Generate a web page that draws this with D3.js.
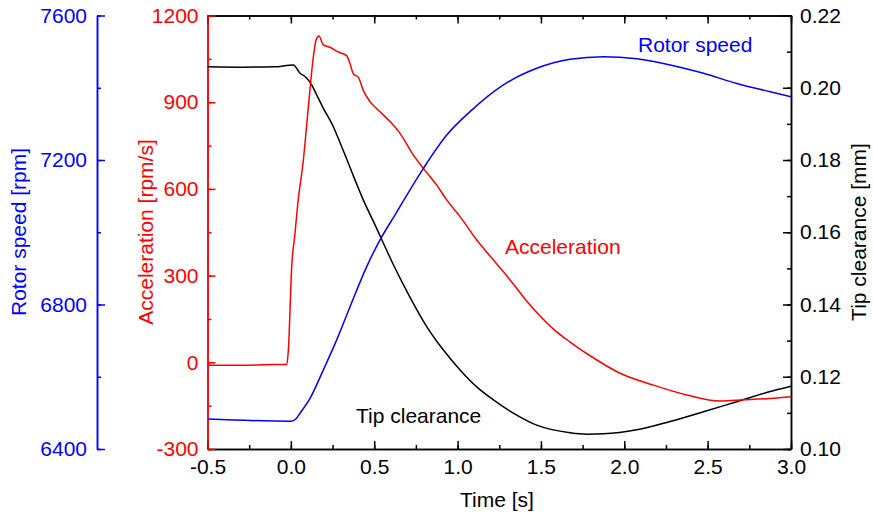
<!DOCTYPE html>
<html>
<head>
<meta charset="utf-8">
<script src="https://cdn.jsdelivr.net/npm/d3@7"></script>
<style>
  body { margin: 0; background: #fff; }
  text { font-family: "Liberation Sans", Arial, sans-serif; }
  .axis path, .axis line { stroke-width: 1.5; }
</style>
</head>
<body>
<svg id="chart" width="873" height="517"></svg>
<script>
// Data
var timeTicks = [-0.5, 0.0, 0.5, 1.0, 1.5, 2.0, 2.5, 3.0];
var speedTicks = [6400, 6800, 7200, 7600];
var accTicks = [-300, 0, 300, 600, 900, 1200];
var tipTicks = [0.10, 0.12, 0.14, 0.16, 0.18, 0.20, 0.22];

var accTime = [-0.5, -0.3, -0.1, -0.025, -0.015, 0.005, 0.025, 0.04, 0.075, 0.105, 0.135, 0.151, 0.168,
  0.195, 0.235, 0.28, 0.335, 0.355, 0.375, 0.405, 0.435, 0.475, 0.535, 0.595, 0.655, 0.735,
  0.795, 0.875, 0.935, 1.015, 1.115, 1.215, 1.315, 1.435, 1.575, 1.675, 1.835, 1.975,
  2.175, 2.375, 2.575, 2.715, 2.875, 3.0];
var accVals = [-10, -10, -8, -8, 42, 331, 447, 540, 700, 884, 1057, 1115, 1129,
  1098, 1090, 1075, 1061, 1033, 998, 986, 940, 902, 867, 833, 792, 717,
  671, 613, 562, 504, 423, 354, 285, 198, 115, 70, 8, -38,
  -79, -113, -134, -130, -125, -119];

var speedTime = [-0.5, 0.0, 0.03, 0.055, 0.115, 0.195, 0.275, 0.355, 0.455, 0.535, 0.625, 0.795,
  0.935, 1.075, 1.275, 1.475, 1.675, 1.875, 2.075, 2.275, 2.475, 2.675, 2.875, 3.0];
var speedVals = [6483, 6477, 6483, 6499, 6540, 6619, 6702, 6794, 6905, 6979, 7048, 7177,
  7269, 7334, 7408, 7454, 7479, 7486, 7480, 7463, 7440, 7412, 7389, 7375];

var tipTime = [-0.5, -0.3, -0.1, 0.015, 0.055, 0.085, 0.125, 0.155, 0.195, 0.255, 0.295, 0.335,
  0.375, 0.435, 0.495, 0.545, 0.615, 0.715, 0.815, 0.915, 1.015, 1.115, 1.215, 1.355, 1.475,
  1.675, 1.775, 1.875, 2.075, 2.275, 2.475, 2.675, 2.875, 3.0];
var tipVals = [0.2058, 0.2057, 0.2058, 0.2063, 0.2040, 0.2031, 0.2008, 0.1980, 0.1943, 0.1892, 0.1848, 0.1803,
  0.1756, 0.1689, 0.1630, 0.1580, 0.1510, 0.1420, 0.1339, 0.1274, 0.1219, 0.1172, 0.1136, 0.1094, 0.1066,
  0.1045, 0.1041, 0.1042, 0.1053, 0.1076, 0.1103, 0.1131, 0.1159, 0.1174];

var svg = d3.select("#chart");
var plotL = 207.5, plotR = 791, plotT = 15.5, plotB = 449, blueX = 97;

var x = d3.scaleLinear().domain([-0.5, 3.0]).range([plotL, plotR]);
var yAcc = d3.scaleLinear().domain([-300, 1200]).range([plotB, plotT]);
var ySpeed = d3.scaleLinear().domain([6400, 7600]).range([plotB, plotT]);
var yTip = d3.scaleLinear().domain([0.10, 0.22]).range([plotB, plotT]);

var fs = "21px";
var minorX = d3.range(-0.5, 3.01, 0.25).map(function(d) { return +d.toFixed(2); });
var minorAcc = d3.range(-300, 1201, 150);
var minorSpeed = d3.range(6400, 7601, 200);
var minorTip = d3.range(0.10, 0.2201, 0.01).map(function(d) { return +d.toFixed(2); });

// plain hyphen for negatives, like the original
function fmt(spec) {
  var f = d3.format(spec);
  return function(d) { return f(d).replace("\u2212", "-"); };
}

function styleAxis(g, color) {
  g.attr("class", "axis");
  g.selectAll("path").attr("stroke", color);
  g.selectAll("line").attr("stroke", color);
  g.selectAll("text").attr("fill", color).style("font-size", fs)
    .style("font-family", "Liberation Sans, Arial, sans-serif");
}

// minor ticks first
svg.append("g").attr("transform", "translate(0," + plotB + ")")
  .call(d3.axisBottom(x).tickValues(minorX).tickSize(-4).tickSizeOuter(0).tickFormat(""))
  .call(styleAxis, "#000");
svg.append("g").attr("transform", "translate(0," + plotT + ")")
  .call(d3.axisTop(x).tickValues(minorX).tickSize(-4).tickSizeOuter(0).tickFormat(""))
  .call(styleAxis, "#000");
svg.append("g").attr("transform", "translate(" + plotR + ",0)")
  .call(d3.axisRight(yTip).tickValues(minorTip).tickSize(-4).tickSizeOuter(0).tickFormat(""))
  .call(styleAxis, "#000");
svg.append("g").attr("transform", "translate(" + blueX + ",0)")
  .call(d3.axisLeft(ySpeed).tickValues(minorSpeed).tickSize(-4).tickSizeOuter(0).tickFormat(""))
  .call(styleAxis, "#0000ff");
svg.append("g").attr("transform", "translate(" + plotL + ",0)")
  .call(d3.axisLeft(yAcc).tickValues(minorAcc).tickSize(-4).tickSizeOuter(0).tickFormat(""))
  .call(styleAxis, "#ff0000");

// major ticks + labels
svg.append("g").attr("transform", "translate(0," + plotB + ")")
  .call(d3.axisBottom(x).tickValues(timeTicks).tickSize(-8).tickSizeOuter(0).tickPadding(10).tickFormat(fmt(".1f")))
  .call(styleAxis, "#000");
svg.append("g").attr("transform", "translate(0," + plotT + ")")
  .call(d3.axisTop(x).tickValues(timeTicks).tickSize(-8).tickSizeOuter(0).tickFormat(""))
  .call(styleAxis, "#000");
svg.append("g").attr("transform", "translate(" + plotR + ",0)")
  .call(d3.axisRight(yTip).tickValues(tipTicks).tickSize(-8).tickSizeOuter(0).tickPadding(9).tickFormat(fmt(".2f")))
  .call(styleAxis, "#000");
svg.append("g").attr("transform", "translate(" + blueX + ",0)")
  .call(d3.axisLeft(ySpeed).tickValues(speedTicks).tickSize(-8).tickSizeOuter(0).tickPadding(10).tickFormat(fmt("d")))
  .call(styleAxis, "#0000ff");
svg.append("g").attr("transform", "translate(" + plotL + ",0)")
  .call(d3.axisLeft(yAcc).tickValues(accTicks).tickSize(-8).tickSizeOuter(0).tickPadding(9).tickFormat(fmt("d")))
  .call(styleAxis, "#ff0000");

// clip
svg.append("clipPath").attr("id", "clip").append("rect")
  .attr("x", plotL).attr("y", plotT).attr("width", plotR - plotL).attr("height", plotB - plotT);
var plot = svg.append("g").attr("clip-path", "url(#clip)");

function drawLine(times, vals, yScale, color) {
  var line = d3.line()
    .x(function(d, i) { return x(times[i]); })
    .y(function(d) { return yScale(d); })
    .curve(d3.curveMonotoneX);
  plot.append("path").datum(vals)
    .attr("d", line)
    .attr("fill", "none")
    .attr("stroke", color)
    .attr("stroke-width", 1.5)
    .attr("stroke-linejoin", "round");
}

drawLine(tipTime, tipVals, yTip, "#000");
drawLine(accTime, accVals, yAcc, "#ff0000");
drawLine(speedTime, speedVals, ySpeed, "#0000ff");

// series labels
svg.append("text").attr("x", 638).attr("y", 52).attr("fill", "#0000ff")
  .style("font-size", "21px").text("Rotor speed");
svg.append("text").attr("x", 505).attr("y", 254).attr("fill", "#ff0000")
  .style("font-size", "21px").text("Acceleration");
svg.append("text").attr("x", 356).attr("y", 423).attr("fill", "#000")
  .style("font-size", "21px").text("Tip clearance");

// axis titles
svg.append("text").attr("x", 497).attr("y", 507).attr("text-anchor", "middle")
  .style("font-size", "21px").text("Time [s]");
svg.append("text").attr("transform", "translate(26,232) rotate(-90)").attr("text-anchor", "middle")
  .attr("fill", "#0000ff").style("font-size", "21px").text("Rotor speed [rpm]");
svg.append("text").attr("transform", "translate(153,232) rotate(-90)").attr("text-anchor", "middle")
  .attr("fill", "#ff0000").style("font-size", "21px").text("Acceleration [rpm/s]");
svg.append("text").attr("transform", "translate(866,232) rotate(-90)").attr("text-anchor", "middle")
  .attr("fill", "#000").style("font-size", "21px").text("Tip clearance [mm]");
</script>
</body>
</html>
